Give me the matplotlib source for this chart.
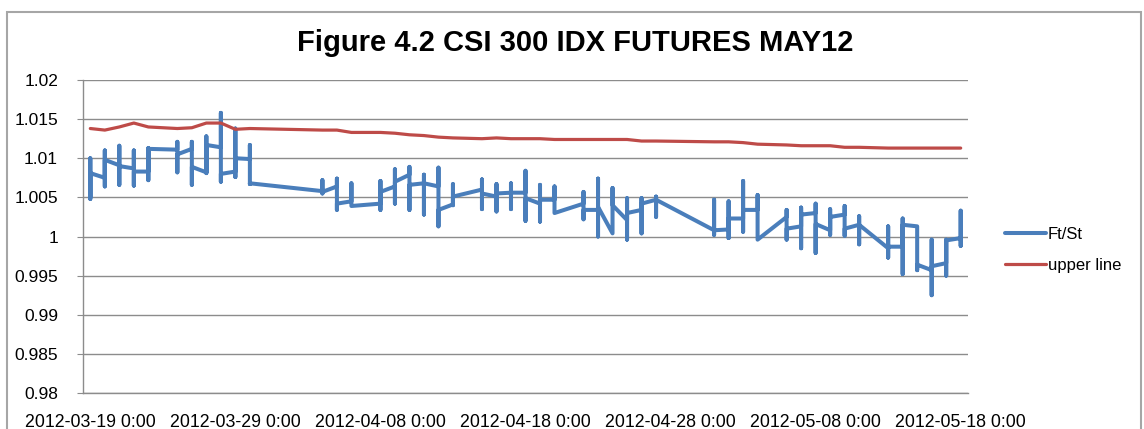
import pandas as pd
import numpy as np
import matplotlib
matplotlib.use("Agg")
import matplotlib.pyplot as plt
from matplotlib.patches import Rectangle

# one entry per plotted day (Excel date axis puts all intraday points of a day at one x)
days = ["2012-03-19", "2012-03-20", "2012-03-21", "2012-03-22", "2012-03-23",
        "2012-03-25", "2012-03-26", "2012-03-27", "2012-03-28", "2012-03-29", "2012-03-30",
        "2012-04-04", "2012-04-05", "2012-04-06",
        "2012-04-08", "2012-04-09", "2012-04-10", "2012-04-11", "2012-04-12", "2012-04-13",
        "2012-04-15", "2012-04-16", "2012-04-17", "2012-04-18", "2012-04-19", "2012-04-20",
        "2012-04-22", "2012-04-23", "2012-04-24", "2012-04-25", "2012-04-26", "2012-04-27",
        "2012-05-01", "2012-05-02", "2012-05-03", "2012-05-04",
        "2012-05-06", "2012-05-07", "2012-05-08", "2012-05-09", "2012-05-10", "2012-05-11",
        "2012-05-13", "2012-05-14", "2012-05-15", "2012-05-16", "2012-05-17", "2012-05-18"]

ft_open = [1.0050, 1.0075, 1.0091, 1.0087, 1.0083,
           1.0111, 1.0112, 1.0082, 1.0114, 1.0083, 1.0099,
           1.0058, 1.0064, 1.0045,
           1.0042, 1.0064, 1.0079, 1.0068, 1.0064, 1.0041,
           1.0060, 1.0051, 1.0056, 1.0056, 1.0042, 1.0047,
           1.0042, 1.0034, 1.0004, 1.0021, 1.0034, 1.0047,
           1.0008, 1.0009, 1.0023, 1.0034,
           1.0025, 1.0013, 1.0030, 1.0008, 1.0028, 1.0015,
           0.9985, 0.9987, 1.0013, 0.9957, 0.9966, 0.9998]
ft_high = [1.0100, 1.0110, 1.0116, 1.0110, 1.0113,
           1.0121, 1.0121, 1.0128, 1.0158, 1.0138, 1.0117,
           1.0072, 1.0074, 1.0068,
           1.0071, 1.0086, 1.0089, 1.0079, 1.0088, 1.0067,
           1.0073, 1.0067, 1.0068, 1.0084, 1.0066, 1.0064,
           1.0057, 1.0074, 1.0062, 1.0049, 1.0049, 1.0051,
           1.0047, 1.0045, 1.0071, 1.0053,
           1.0034, 1.0037, 1.0042, 1.0035, 1.0039, 1.0026,
           1.0013, 1.0023, 1.0013, 0.9996, 0.9996, 1.0033]
ft_low = [1.0048, 1.0064, 1.0066, 1.0065, 1.0072,
          1.0082, 1.0066, 1.0081, 1.0070, 1.0076, 1.0067,
          1.0055, 1.0034, 1.0039,
          1.0034, 1.0042, 1.0034, 1.0028, 1.0013, 1.0040,
          1.0035, 1.0032, 1.0035, 1.0020, 1.0019, 1.0030,
          1.0022, 1.0000, 1.0004, 0.9996, 1.0004, 1.0025,
          1.0002, 0.9998, 1.0006, 0.9996,
          0.9996, 0.9985, 0.9979, 1.0002, 1.0001, 0.9990,
          0.9973, 0.9952, 0.9957, 0.9925, 0.9950, 0.9988]
ft_close = [1.0081, 1.0098, 1.0090, 1.0083, 1.0112,
            1.0105, 1.0089, 1.0117, 1.0080, 1.0100, 1.0068,
            1.0057, 1.0042, 1.0039,
            1.0057, 1.0070, 1.0066, 1.0068, 1.0034, 1.0051,
            1.0055, 1.0055, 1.0056, 1.0049, 1.0047, 1.0030,
            1.0034, 1.0038, 1.0040, 1.0030, 1.0042, 1.0047,
            1.0008, 1.0023, 1.0034, 0.9996,
            1.0010, 1.0028, 1.0016, 1.0025, 1.0010, 1.0015,
            0.9987, 1.0015, 0.9964, 0.9962, 0.9995, 0.9995]

upper = [1.0138, 1.0136, 1.0140, 1.0145, 1.0140,
         1.0138, 1.0139, 1.0145, 1.0145, 1.0137, 1.0138,
         1.0136, 1.0136, 1.0133,
         1.0133, 1.0132, 1.0130, 1.0129, 1.0127, 1.0126,
         1.0125, 1.0126, 1.0125, 1.0125, 1.0125, 1.0124,
         1.0124, 1.0124, 1.0124, 1.0124, 1.0122, 1.0122,
         1.0121, 1.0121, 1.0120, 1.0118,
         1.0117, 1.0116, 1.0116, 1.0116, 1.0114, 1.0114,
         1.0113, 1.0113, 1.0113, 1.0113, 1.0113, 1.0113]

tick_days = ["2012-03-19", "2012-03-29", "2012-04-08", "2012-04-18",
             "2012-04-28", "2012-05-08", "2012-05-18"]

BLUE = "#4A7EBB"
RED = "#BE4B48"
GRID = "#8C8C8C"
FONT = ["Liberation Sans", "DejaVu Sans"]

plt.rcParams["font.family"] = FONT

half = pd.Timedelta(hours=12)
x_day = pd.to_datetime(days) + half

# blue series: every point of a day sits on the same x
x_ft = np.repeat(x_day.values, 4)
y_ft = np.column_stack([ft_open, ft_high, ft_low, ft_close]).ravel()

fig = plt.figure(figsize=(11.44, 4.29), dpi=100)
ax = fig.add_axes([0.0726, 0.0839, 0.7735, 0.7296])

ax.plot(x_ft, y_ft, color=BLUE, lw=2.9, solid_joinstyle="round",
        solid_capstyle="round", label="Ft/St", zorder=3)
ax.plot(x_day, upper, color=RED, lw=2.3, solid_joinstyle="round",
        solid_capstyle="round", label="upper line", zorder=3)

ax.set_xlim(pd.Timestamp("2012-03-19"), pd.Timestamp("2012-05-19"))
ax.set_ylim(0.98, 1.02)
ax.set_yticks(np.arange(0.98, 1.02001, 0.005))
ax.set_yticklabels(["0.98", "0.985", "0.99", "0.995", "1", "1.005", "1.01", "1.015", "1.02"])
ax.set_xticks(pd.to_datetime(tick_days) + half)
ax.set_xticklabels([d + " 0:00" for d in tick_days])

ax.grid(axis="y", color=GRID, lw=1.0)
ax.set_axisbelow(True)
for s in ["top", "right"]:
    ax.spines[s].set_visible(False)
for s in ["left", "bottom"]:
    ax.spines[s].set_color(GRID)
    ax.spines[s].set_linewidth(1.0)
ax.tick_params(axis="y", length=4, color=GRID, pad=14, labelsize=12.5)
ax.tick_params(axis="x", length=0, pad=15, labelsize=12.8)

fig.text(0.503, 0.9, "Figure 4.2 CSI 300 IDX FUTURES MAY12", ha="center", va="center",
         fontsize=21, fontweight="bold")

ax.legend(loc="center left", bbox_to_anchor=(0.865, 0.418), bbox_transform=fig.transFigure,
          frameon=False, fontsize=12, handlelength=2.5, handletextpad=0.1,
          labelspacing=0.95)

# outer chart border
fig.patches.append(Rectangle((7 / 1144, -0.05), 1134 / 1144, (429 - 12) / 429 + 0.05,
                             transform=fig.transFigure, fill=False,
                             edgecolor="#A6A6A6", lw=1.5))

fig.savefig("out.png", dpi=100)
